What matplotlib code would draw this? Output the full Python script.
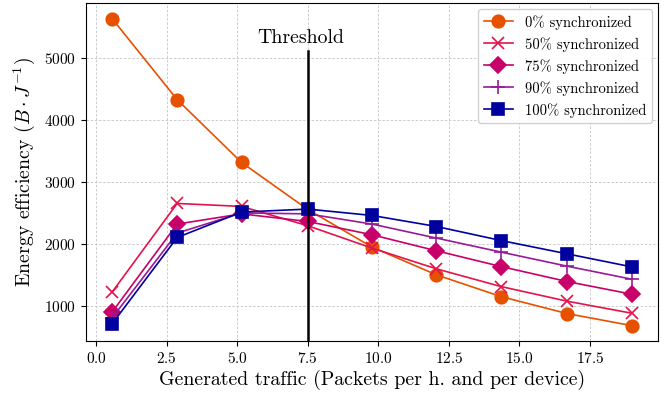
import matplotlib
matplotlib.use('Agg')
import matplotlib.pyplot as plt

plt.rcParams['font.family'] = 'serif'
plt.rcParams['font.serif'] = ['cmr10', 'DejaVu Serif']
plt.rcParams['mathtext.fontset'] = 'cm'
plt.rcParams['axes.formatter.use_mathtext'] = True
plt.rcParams['axes.unicode_minus'] = False

traffic = [0.56, 2.87, 5.15, 7.5, 9.78, 12.06, 14.35, 16.69, 18.98]
sync_0 = [5632, 4323, 3310, 2550, 1943, 1496, 1145, 871, 677]
sync_50 = [1216, 2648, 2600, 2288, 1927, 1593, 1307, 1071, 877]
sync_75 = [893, 2315, 2480, 2357, 2142, 1884, 1630, 1388, 1184]
sync_90 = [800, 2170, 2495, 2480, 2315, 2089, 1863, 1636, 1426]
sync_100 = [704, 2099, 2509, 2557, 2454, 2276, 2050, 1835, 1625]
labels = ['0% synchronized', '50% synchronized', '75% synchronized',
          '90% synchronized', '100% synchronized']
threshold = 7.5

series = [sync_0, sync_50, sync_75, sync_90, sync_100]
colors = ['#e65100', '#e3144b', '#c8006a', '#981a98', '#00009f']
markers = ['o', 'x', 'D', '+', 's']
sizes = [9, 9, 8, 10, 8.5]

fig = plt.figure(figsize=(6.67, 3.96), dpi=100)
ax = fig.add_axes([0.129, 0.139, 0.857, 0.853])

for ys, lab, c, m, s in zip(series, labels, colors, markers, sizes):
    ax.plot(traffic, ys, color=c, marker=m, markersize=s, linewidth=1.2,
            markeredgewidth=1.2, label=lab)

ax.grid(True, linestyle=(0, (3, 2)), color='#c4c4c4', linewidth=0.6)
ax.set_axisbelow(True)

y0, y1 = ax.get_ylim()
ax.set_ylim(y0, y1)
ax.axvline(threshold, ymax=(5100 - y0) / (y1 - y0), color='black', linewidth=1.8)
ax.text(threshold - 0.25, 5170, 'Threshold', ha='center', va='bottom', fontsize=14.3)

ax.set_xlabel('Generated traffic (Packets per h. and per device)', fontsize=14.3, labelpad=3)
ax.set_ylabel(r'Energy efficiency $(B \cdot J^{-1})$', fontsize=14.3, labelpad=5)
ax.tick_params(labelsize=11)
ax.legend(loc='upper right', fontsize=10.5, framealpha=0.9, borderaxespad=0.4)

fig.savefig('out.png', dpi=100)
